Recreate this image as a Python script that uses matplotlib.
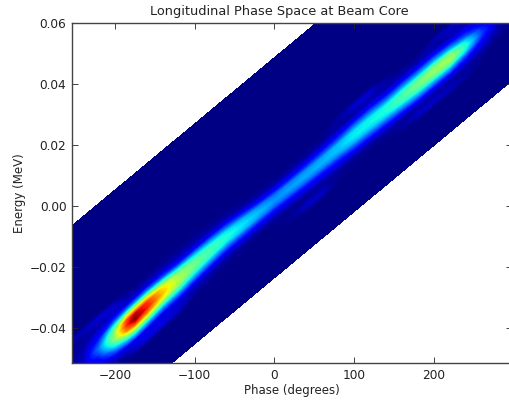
import numpy as np
import matplotlib
matplotlib.use('Agg')
import matplotlib.pyplot as plt

# energy spread slope of the rf bucket (MeV / degree)
slope = 2.17e-4

phase = [-300, -240, -220, -200, -185, -175, -160, -140, -120, -100, -80, -60, -40, -20,
         0, 20, 40, 60, 80, 100, 120, 140, 160, 180, 200, 220, 240, 260, 280, 340]

# how far the ridge sits off the bucket line at each phase
ridge = [0.001, 0.001, 0.001, 0.001, 0.001, 0.001, 0.0015, 0.002, 0.002, 0.0025, 0.0028, 0.003, 0.0026, 0.0022,
         0.0018, 0.0015, 0.0013, 0.0012, 0.0012, 0.0012, 0.0012, 0.001, 0.001, 0.0008, 0.0008, 0.0005, 0.0005, 0.0005, 0.0005, 0.0005]

# energy offset from the ridge line
offset = [-0.0235, -0.012, -0.010, -0.007, -0.005, -0.003, -0.0015, 0.0, 0.0015, 0.003, 0.005, 0.007, 0.010, 0.012, 0.0486]

# density, one row per phase, one column per offset
density = [
    [0, 0, 0.00, 0.00, 0.00, 0.00, 0.00, 0.00, 0.00, 0.00, 0.00, 0.00, 0.00, 0, 0],
    [0, 0, 0.00, 0.02, 0.03, 0.04, 0.05, 0.05, 0.05, 0.04, 0.03, 0.02, 0.05, 0, 0],
    [0, 0, 0.00, 0.05, 0.09, 0.14, 0.20, 0.24, 0.20, 0.14, 0.09, 0.04, 0.07, 0, 0],
    [0, 0, 0.01, 0.08, 0.22, 0.40, 0.50, 0.54, 0.50, 0.40, 0.18, 0.06, 0.06, 0, 0],
    [0, 0, 0.03, 0.09, 0.30, 0.56, 0.78, 0.86, 0.84, 0.62, 0.26, 0.07, 0.02, 0, 0],
    [0, 0, 0.06, 0.09, 0.32, 0.60, 0.84, 1.00, 0.94, 0.68, 0.30, 0.08, 0.01, 0, 0],
    [0, 0, 0.09, 0.09, 0.30, 0.58, 0.78, 0.88, 0.85, 0.64, 0.28, 0.07, 0.01, 0, 0],
    [0, 0, 0.09, 0.08, 0.24, 0.48, 0.64, 0.70, 0.66, 0.50, 0.20, 0.06, 0.01, 0, 0],
    [0, 0, 0.06, 0.07, 0.20, 0.40, 0.52, 0.56, 0.53, 0.41, 0.16, 0.05, 0.01, 0, 0],
    [0, 0, 0.01, 0.05, 0.16, 0.33, 0.44, 0.48, 0.45, 0.33, 0.12, 0.04, 0.01, 0, 0],
    [0, 0, 0.01, 0.04, 0.13, 0.28, 0.40, 0.43, 0.40, 0.28, 0.09, 0.03, 0.00, 0, 0],
    [0, 0, 0.00, 0.03, 0.10, 0.24, 0.36, 0.39, 0.35, 0.22, 0.07, 0.02, 0.00, 0, 0],
    [0, 0, 0.00, 0.02, 0.08, 0.20, 0.32, 0.35, 0.31, 0.18, 0.05, 0.01, 0.00, 0, 0],
    [0, 0, 0.00, 0.01, 0.06, 0.16, 0.27, 0.31, 0.27, 0.14, 0.04, 0.01, 0.00, 0, 0],
    [0, 0, 0.00, 0.01, 0.05, 0.13, 0.23, 0.27, 0.24, 0.13, 0.04, 0.01, 0.00, 0, 0],
    [0, 0, 0.02, 0.01, 0.05, 0.13, 0.23, 0.28, 0.26, 0.14, 0.05, 0.01, 0.00, 0, 0],
    [0, 0, 0.06, 0.01, 0.06, 0.14, 0.24, 0.29, 0.27, 0.16, 0.06, 0.01, 0.00, 0, 0],
    [0, 0, 0.06, 0.02, 0.07, 0.15, 0.25, 0.30, 0.28, 0.18, 0.07, 0.02, 0.00, 0, 0],
    [0, 0, 0.01, 0.02, 0.08, 0.17, 0.27, 0.32, 0.31, 0.20, 0.09, 0.03, 0.03, 0, 0],
    [0, 0, 0.00, 0.02, 0.09, 0.21, 0.31, 0.36, 0.35, 0.25, 0.11, 0.03, 0.07, 0, 0],
    [0, 0, 0.00, 0.02, 0.10, 0.23, 0.33, 0.37, 0.36, 0.26, 0.12, 0.04, 0.07, 0, 0],
    [0, 0, 0.00, 0.03, 0.11, 0.24, 0.35, 0.39, 0.37, 0.25, 0.11, 0.04, 0.02, 0, 0],
    [0, 0, 0.02, 0.03, 0.13, 0.28, 0.40, 0.44, 0.41, 0.28, 0.12, 0.04, 0.00, 0, 0],
    [0, 0, 0.06, 0.03, 0.14, 0.31, 0.44, 0.49, 0.45, 0.30, 0.13, 0.04, 0.00, 0, 0],
    [0, 0, 0.06, 0.03, 0.14, 0.32, 0.47, 0.53, 0.48, 0.31, 0.14, 0.04, 0.04, 0, 0],
    [0, 0, 0.05, 0.03, 0.12, 0.30, 0.48, 0.55, 0.49, 0.30, 0.13, 0.04, 0.06, 0, 0],
    [0, 0, 0.03, 0.03, 0.09, 0.20, 0.34, 0.40, 0.34, 0.20, 0.10, 0.04, 0.06, 0, 0],
    [0, 0, 0.00, 0.02, 0.06, 0.10, 0.15, 0.18, 0.15, 0.10, 0.07, 0.03, 0.03, 0, 0],
    [0, 0, 0.00, 0.00, 0.02, 0.03, 0.05, 0.06, 0.05, 0.03, 0.02, 0.00, 0.00, 0, 0],
    [0, 0, 0.00, 0.00, 0.00, 0.00, 0.00, 0.00, 0.00, 0.00, 0.00, 0.00, 0.00, 0, 0],
]

xticks = [-200, -100, 0, 100, 200]
yticks = [-0.04, -0.02, 0.00, 0.02, 0.04, 0.06]

P, O = np.meshgrid(phase, offset, indexing='ij')
E = O + slope * P
# the outer edges of the bucket stay straight, only the inside follows the ridge
E[:, 1:-1] += np.array(ridge)[:, None]

fig = plt.figure(figsize=(5.09, 4.03), dpi=100)
ax = fig.add_axes([72 / 509, 40 / 403, 440 / 509, 340 / 403])
ax.contourf(P, E, np.array(density), levels=np.linspace(0, 1.001, 120), cmap='jet')

ax.set_xlim(-254, 298)
ax.set_ylim(-0.0515, 0.06)
ax.set_xticks(xticks)
ax.set_yticks(yticks)
ax.set_xticklabels(['\u2212200', '\u2212100', '0', '100', '200'])
ax.set_yticklabels(['\u22120.04', '\u22120.02', '0.00', '0.02', '0.04', '0.06'])
ax.tick_params(direction='in', top=True, right=True, length=4, width=0.6,
               labelsize=8.7, colors='#222222', pad=4)
for s in ax.spines.values():
    s.set_color('#444444')
    s.set_linewidth(1.0)

ax.set_xlabel('Phase (degrees)', fontsize=8.5, color='#222222', labelpad=2)
ax.set_ylabel('Energy (MeV)', fontsize=8.5, color='#222222', labelpad=3)
ax.yaxis.set_label_coords(-46 / 440, 0.5)
fig.text(279 / 509, 1 - 12 / 403, 'Longitudinal Phase Space at Beam Core', fontsize=9.3,
         ha='center', va='center', color='#222222')

fig.savefig('out.png', dpi=100)
